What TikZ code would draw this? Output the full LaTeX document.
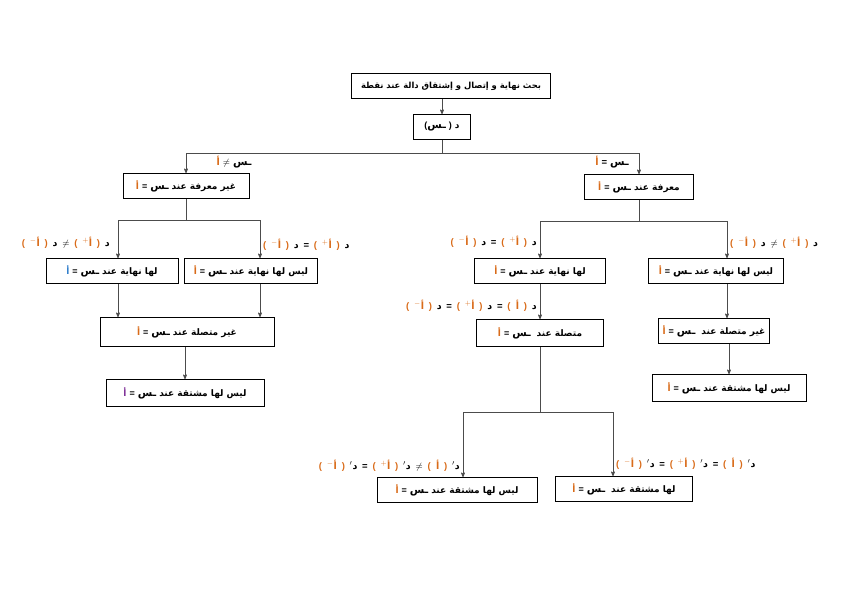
\documentclass[tikz,border=0pt]{standalone}
\usepackage{fontspec}
\newfontfamily\arabicfont[Script=Arabic]{DejaVu Sans}
\newfontfamily\latinfont{Liberation Sans}
\TeXXeTstate=1
\usepackage{tikz}
\usetikzlibrary{arrows}
\definecolor{aorng}{rgb}{0.85,0.42,0.1}
\definecolor{ablue}{rgb}{0.2,0.5,0.8}
\definecolor{apurp}{rgb}{0.5,0.2,0.6}
\newcommand{\gap}{\hspace{3pt}}
\newcommand{\fgap}{\hspace{4.8pt}}
\newcommand{\sinn}{\hbox{\fontsize{10.5}{12}\selectfont ـس}}
\newcommand{\eqa}[2][aorng]{\textcolor{#1}{أ}\gap{\latinfont=}\gap\sinn\gap\beginR #2\endR}
\newcommand{\fval}[1]{\hbox{\color{aorng}{\latinfont(}\fgap$^{#1}$أ\fgap{\latinfont)}}}
\newcommand{\ddash}{\hbox{$^{\prime}$د}}
\newcommand{\rel}[1]{\fgap{\latinfont#1}\fgap}

\begin{document}
\begin{tikzpicture}[x=1pt,y=-1pt,>=stealth',
  box node/.style={draw,rectangle,fill=white,minimum height=25pt,inner sep=2pt,
    line width=0.7pt,font=\arabicfont\bfseries\fontsize{9}{11}\selectfont},
  cond node/.style={inner sep=0pt,font=\arabicfont\bfseries\fontsize{9.5}{11}\selectfont},
  conn/.style={draw=black!70,line width=0.7pt}]
  \useasboundingbox (0,0) rectangle (842,595);

  \node[box node, minimum width=199, font=\arabicfont\bfseries\fontsize{8.4}{10}\selectfont] (title) at (451,86) {\beginR بحث نهاية و إتصال و إشتقاق دالة عند نقطة\endR};
  \node[box node, minimum width=57] (func) at (442,127) {\hbox{\latinfont(}\sinn\gap\hbox{\latinfont)}\gap د};
  \node[box node, minimum width=126] (undef) at (186,186) {\eqa{غير معرفة عند}};
  \node[box node, minimum width=109] (def) at (639,187) {\eqa{معرفة عند}};

  % left branch
  \node[box node, minimum width=132] (lim1) at (112,271) {\eqa[ablue]{لها نهاية عند}};
  \node[box node, minimum width=133] (nolim1) at (251,271) {\eqa{ليس لها نهاية عند}};
  \node[box node, minimum width=174, minimum height=29] (discont1) at (187,332) {\eqa{غير متصلة عند}};
  \node[box node, minimum width=158, minimum height=27] (nodiff1) at (185,393) {\eqa[apurp]{ليس لها مشتقة عند}};

  % right branch
  \node[box node, minimum width=131] (lim2) at (540,271) {\eqa{لها نهاية عند}};
  \node[box node, minimum width=135] (nolim2) at (716,271) {\eqa{ليس لها نهاية عند}};
  \node[box node, minimum width=127, minimum height=27] (cont2) at (540,333) {\eqa{متصلة عند\gap}};
  \node[box node, minimum width=111] (discont2) at (714,331) {\eqa{غير متصلة عند\gap}};
  \node[box node, minimum width=154, minimum height=27] (nodiff2) at (729,388) {\eqa{ليس لها مشتقة عند}};
  \node[box node, minimum width=160] (nodiff3) at (457,490) {\eqa{ليس لها مشتقة عند}};
  \node[box node, minimum width=137] (diff3) at (624,489) {\eqa{لها مشتقة عند\gap}};

  % conditions
  \node[cond node] (neq) at (234,162) {\textcolor{aorng}{أ}\gap{\latinfont$\neq$}\gap\sinn};
  \node[cond node] (eq) at (612,162) {\textcolor{aorng}{أ}\gap{\latinfont=}\gap\sinn};
  \node[cond node, anchor=east] (c1) at (110,243) {\fval{-}\fgap د\rel{$\neq$}\fval{+}\fgap د};
  \node[cond node, anchor=west] (c2) at (263,245) {\fval{-}\fgap د\rel{=}\fval{+}\fgap د};
  \node[cond node, anchor=east] (c3) at (537,242) {\fval{-}\fgap د\rel{=}\fval{+}\fgap د};
  \node[cond node, anchor=west] (c4) at (730,243) {\fval{-}\fgap د\rel{$\neq$}\fval{+}\fgap د};
  \node[cond node, anchor=east] (c5) at (537,306) {\fval{-}\fgap د\rel{=}\fval{+}\fgap د\rel{=}\fval{}\fgap د};
  \node[cond node, anchor=east] (c6) at (460,466) {\fval{-}\fgap\ddash\rel{=}\fval{+}\fgap\ddash\rel{$\neq$}\fval{}\fgap\ddash};
  \node[cond node, anchor=west] (c7) at (616,464) {\fval{-}\fgap\ddash\rel{=}\fval{+}\fgap\ddash\rel{=}\fval{}\fgap\ddash};

  \coordinate (j0) at (442,153);
  \coordinate (j1) at (186,220);
  \coordinate (j2) at (639,221);
  \coordinate (j3) at (540,412);

  \draw[conn,->] (func.north |- title.south) -- (func);
  \draw[conn] (func) -- (j0);
  \draw[conn,->] (j0) -| (undef);
  \draw[conn,->] (j0) -| (def);

  \draw[conn] (undef) -- (j1);
  \draw[conn,->] (j1) -| ([xshift=6]lim1.north);
  \draw[conn,->] (j1) -| ([xshift=9]nolim1.north);
  \draw[conn,->] ([xshift=6]lim1.south) -- ([xshift=6]lim1.south |- discont1.north);
  \draw[conn,->] ([xshift=9]nolim1.south) -- ([xshift=9]nolim1.south |- discont1.north);
  \draw[conn,->] (nodiff1.north |- discont1.south) -- (nodiff1);

  \draw[conn] (def) -- (j2);
  \draw[conn,->] (j2) -| (lim2);
  \draw[conn,->] (j2) -| ([xshift=11]nolim2.north);
  \draw[conn,->] (lim2) -- (cont2);
  \draw[conn,->] ([xshift=11]nolim2.south) -- ([xshift=11]nolim2.south |- discont2.north);
  \draw[conn,->] (nodiff2.north |- discont2.south) -- (nodiff2);

  \draw[conn] (cont2) -- (j3);
  \draw[conn,->] (j3) -| ([xshift=6]nodiff3.north);
  \draw[conn,->] (j3) -| ([xshift=-11]diff3.north);
\end{tikzpicture}
\end{document}
